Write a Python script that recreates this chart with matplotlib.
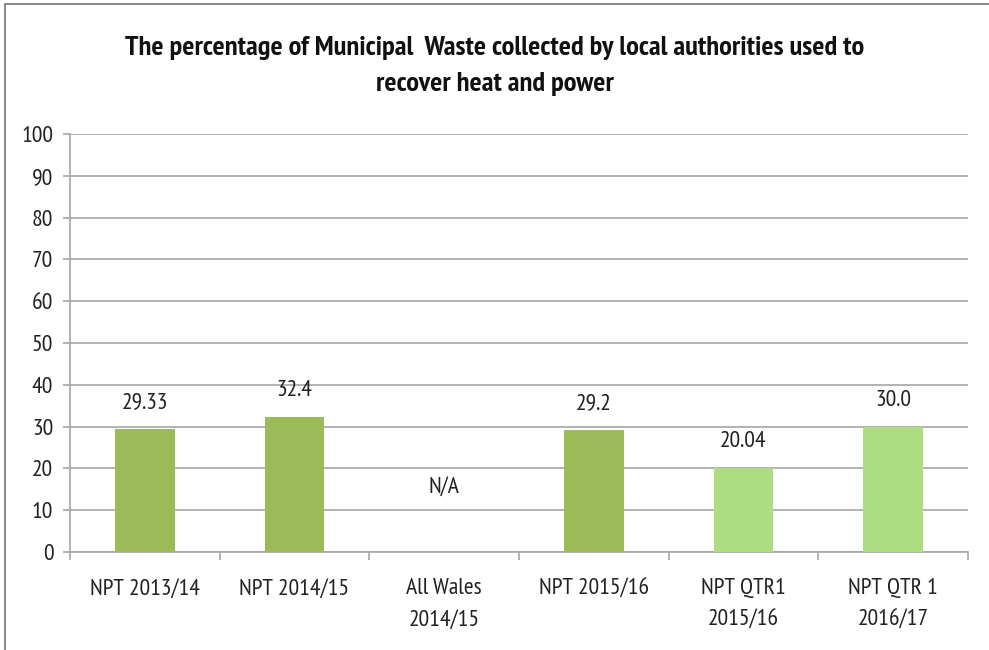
import matplotlib
matplotlib.use("Agg")
import matplotlib.pyplot as plt
from matplotlib.patches import Rectangle
import numpy as np

categories = ["NPT 2013/14", "NPT 2014/15", "All Wales\n2014/15", "NPT 2015/16",
              "NPT QTR1\n2015/16", "NPT QTR 1\n2016/17"]
values = [29.33, 32.4, np.nan, 29.2, 20.04, 30.0]
labels = ["29.33", "32.4", "N/A", "29.2", "20.04", "30.0"]
colors = ["#9BBB59", "#9BBB59", "#9BBB59", "#9BBB59", "#AEDC80", "#AEDC80"]
yticks = list(range(0, 101, 10))
title = "The percentage of Municipal  Waste collected by local authorities used to\nrecover heat and power"

plt.rcParams['font.family'] = ['PT Sans Narrow', 'Carlito', 'DejaVu Sans']

FS = 17
W, H = 989, 650
fig = plt.figure(figsize=(W / 100, H / 100), dpi=100)
ax = fig.add_axes([70 / W, 1 - 552 / H, (968 - 70) / W, (552 - 134) / H])

x = np.arange(len(categories))
heights = [0 if np.isnan(v) else v for v in values]
ax.bar(x, heights, width=0.4, color=colors, zorder=3)

for xi, v, lab in zip(x, values, labels):
    if np.isnan(v):
        ax.text(xi, 15.5, lab, ha="center", va="center", fontsize=FS, color="#222222")
    else:
        ax.annotate(lab, (xi, v), xytext=(0, 19), textcoords="offset points",
                    ha="center", va="center", fontsize=FS, color="#222222")

ax.set_xlim(-0.5, len(categories) - 0.5)
ax.set_ylim(0, 100)
ax.set_yticks(yticks)
ax.set_yticklabels([str(t) for t in yticks], fontsize=FS, color="#222222")
ax.yaxis.grid(True, color="#A6A6A6", linewidth=1.2, zorder=0)
ax.set_axisbelow(True)

ax.set_xticks(x)
ax.set_xticklabels(categories, fontsize=FS, color="#222222", linespacing=1.65)
ax.tick_params(axis="x", length=0, pad=19)
ax.set_xticks(np.arange(-0.5, len(categories)), minor=True)
ax.tick_params(axis="x", which="minor", length=6, color="#A6A6A6", width=1.2)
ax.tick_params(axis="y", length=5, color="#A6A6A6", width=1.2, pad=7)

for s in ["top", "right"]:
    ax.spines[s].set_visible(False)
for s in ["left", "bottom"]:
    ax.spines[s].set_color("#A6A6A6")
    ax.spines[s].set_linewidth(1.2)

fig.text(0.5, 1 - 66 / H, title, ha="center", va="center", fontsize=20.5,
         fontweight="bold", linespacing=1.6, color="#111111")

# outer chart border
fig.patches.append(Rectangle((5 / W, -0.1), 1.2, 1 - 4 / H + 0.1, transform=fig.transFigure,
                             fill=False, edgecolor="#8C8C8C", linewidth=1.5))

fig.savefig("out.png", dpi=100)
